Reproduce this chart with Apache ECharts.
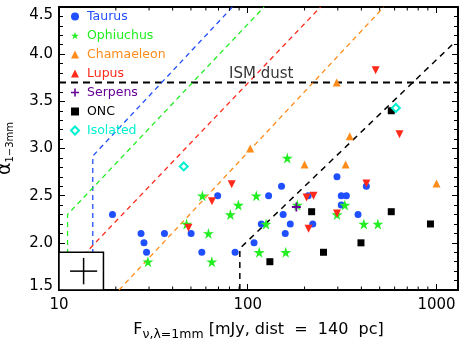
<!DOCTYPE html>
<html>
<head>
<meta charset="utf-8">
<script src="https://cdn.jsdelivr.net/npm/echarts@6/dist/echarts.min.js"></script>
<style>
  html, body { margin: 0; padding: 0; background: #fff; }
  #chart { width: 463px; height: 346px; }
</style>
</head>
<body>
<div id="chart"></div>
<script>
// 数据：F(1mm) [mJy] 与 α(1-3mm)
const taurus = [[19.2,2.3],[27.2,2.1],[28.2,2.0],[29.1,1.9],[36.2,2.1],[50.1,2.1],[57.1,1.9],[69.3,2.5],
    [85.7,1.9],[108,2.0],[118,2.2],[129,2.5],[151,2.6],[154,2.3],[158,2.1],[168,2.2],[209,2.5],[221,2.2],
    [297,2.7],[313,2.5],[333,2.5],[313,2.4],[384,2.3],[425,2.6]];
const ophiuchus = [[29.6,1.8],[47.4,2.2],[57.5,2.5],[61.9,2.1],[64.5,1.8],[80.9,2.3],[89.2,2.4],[111,2.5],
    [115,1.9],[125,2.2],[159,1.9],[162,2.9],[183,2.4],[297,2.3],[327,2.4],[412,2.2],[489,2.2]];
const chamaeleon = [[103,3.0],[200,2.83],[296,3.7],[330,2.83],[347,3.13],[1000,2.63]];
const lupus = [[48.5,2.16],[64.6,2.44],[82.2,2.62],[205,2.48],[210,2.15],[223,2.5],[297,2.31],[425,2.63],
    [476,3.83],[637,3.15]];
const serpens = [[181,2.38]];
const onc = [[131,1.8],[218,2.33],[252,1.9],[398,2.0],[576,2.33],[576,3.4],[929,2.2]];
const isolated = [[45.8,2.81],[609,3.43]];

// 模型曲线（虚线）
const blueModel = [[15.1,1.5],[15.1,2.92],[83,4.5]];
const greenModel = [[11.1,1.5],[11.1,2.30],[122,4.5]];
const redModel = [[12.5,1.80],[243,4.5]];
const orangeModel = [[20.8,1.5],[526,4.5]];
const blackModel = [[90.8,1.5],[90.8,1.94],[1210,4.10]];
const ismAlpha = 3.7;
const ismLabelAt = [118, 3.7];

// 典型误差
const errorBar = [13.5, 1.7];      // 中心
const errorSize = [1.18, 0.14];    // x 倍数, y 半宽
const errorBox = [17.2, 1.9];      // 方框右上角

// 坐标轴
const xRange = [10, 1300];
const yRange = [1.5, 4.5];
const xMajorTicks = [10, 100, 1000];
const xMinorTicks = [20,30,40,50,60,70,80,90,200,300,400,500,600,700,800,900];

const FONT = 'DejaVu Sans';
const C = {
    taurus: '#1f4fff', oph: '#22ee22', cha: '#ff8c1a', lupus: '#ff2a1a',
    serpens: '#660099', onc: '#000000', iso: '#00f0d0'
};
const starPath = 'path://M50,0 L61,35 L98,35 L68,57 L79,91 L50,70 L21,91 L32,57 L2,35 L39,35 Z';
const plusPath = 'path://M4,0 H6 V4 H10 V6 H6 V10 H4 V6 H0 V4 H4 Z';

(function () {
    const my_echart = echarts.init(document.getElementById('chart'));

    const axisLine = { show: true, onZero: false, lineStyle: { color: '#000', width: 2 } };
    const xAxisBase = {
        type: 'log', min: xRange[0], max: xRange[1],
        axisLine: axisLine,
        axisTick: { show: true, inside: true, length: 6, lineStyle: { color: '#000', width: 1 } },
        splitLine: { show: false }
    };
    const yAxisBase = {
        type: 'value', min: yRange[0], max: yRange[1], interval: 0.5,
        axisLine: axisLine,
        axisTick: { show: true, inside: true, length: 6, lineStyle: { color: '#000', width: 1 } },
        minorTick: { show: true, splitNumber: 5, length: 4, lineStyle: { color: '#000', width: 1 } },
        splitLine: { show: false }
    };

    const dashed = (name, data, color, width, dash) => ({
        name: name, type: 'line', data: data, showSymbol: false, silent: true, z: 2,
        lineStyle: { color: color, width: width, type: dash }
    });
    const scatter = (name, data, symbol, size, color, extra) => Object.assign({
        name: name, type: 'scatter', data: data, symbol: symbol, symbolSize: size, z: 5,
        itemStyle: { color: color, opacity: 1 }
    }, extra || {});

    const isLog10 = v => Math.abs(Math.log10(v) - Math.round(Math.log10(v))) < 1e-6;
    const legendText = c => ({ color: c, padding: [0, 0, 0, 3] });

    let option = {
        animation: false,
        backgroundColor: '#fff',
        textStyle: { fontFamily: FONT },
        grid: { left: 59, right: 5, top: 7, bottom: 56, containLabel: false, outerBoundsMode: 'none' },
        legend: {
            orient: 'vertical', left: 65, top: 5,
            itemWidth: 8, itemHeight: 8, itemGap: 6,
            textStyle: { fontFamily: FONT, fontSize: 12.5 },
            data: [
                { name: 'Taurus', textStyle: legendText(C.taurus) },
                { name: 'Ophiuchus', textStyle: legendText(C.oph) },
                { name: 'Chamaeleon', textStyle: legendText(C.cha) },
                { name: 'Lupus', textStyle: legendText(C.lupus) },
                { name: 'Serpens', textStyle: legendText(C.serpens) },
                { name: 'ONC', textStyle: legendText(C.onc) },
                { name: 'Isolated', textStyle: legendText(C.iso) }
            ]
        },
        xAxis: [
            Object.assign({}, xAxisBase, {
                position: 'bottom',
                axisLabel: {
                    show: true, color: '#000', fontSize: 15, fontFamily: FONT, margin: 8,
                    formatter: v => (isLog10(v) && xMajorTicks.indexOf(Math.round(v)) >= 0) ? String(Math.round(v)) : ''
                },
                name: '{m|F}{s|ν,λ=1mm}{m| [mJy, dist  =  140  pc]}',
                nameLocation: 'middle', nameGap: 28,
                nameTextStyle: {
                    color: '#000',
                    rich: {
                        m: { fontSize: 16, fontFamily: FONT, color: '#000', lineHeight: 22 },
                        s: { fontSize: 12.5, fontFamily: FONT, color: '#000', lineHeight: 12, padding: [10, 0, 0, 0] }
                    }
                }
            }),
            Object.assign({}, xAxisBase, { position: 'top', axisLabel: { show: false } })
        ],
        yAxis: [
            Object.assign({}, yAxisBase, {
                position: 'left',
                axisLabel: {
                    show: true, color: '#000', fontSize: 15, fontFamily: FONT, margin: 6,
                    formatter: v => v === yRange[1] ? '{t|' + v.toFixed(1) + '}' :
                        v === yRange[0] ? '{b|' + v.toFixed(1) + '}' : v.toFixed(1),
                    rich: {
                        t: { fontSize: 15, fontFamily: FONT, color: '#000', padding: [16, 0, 0, 0] },
                        b: { fontSize: 15, fontFamily: FONT, color: '#000', padding: [0, 0, 8, 0] }
                    }
                },
                name: '{a|α}{s|1−3mm}',
                nameLocation: 'middle', nameRotate: 90, nameGap: 43,
                nameTextStyle: {
                    color: '#000',
                    rich: {
                        a: { fontSize: 19, fontFamily: FONT, color: '#000', lineHeight: 22 },
                        s: { fontSize: 10, fontFamily: FONT, color: '#000', lineHeight: 12, padding: [10, 0, 0, 0] }
                    }
                }
            }),
            Object.assign({}, yAxisBase, { position: 'right', axisLabel: { show: false } })
        ],
        series: [
            // x 轴次刻度（对数），上下两边
            {
                type: 'custom', silent: true, z: 6, clip: false,
                data: xMinorTicks.map(v => [v, yRange[0]]),
                renderItem: function (params, api) {
                    const v = api.value(0);
                    const b = api.coord([v, yRange[0]]);
                    const t = api.coord([v, yRange[1]]);
                    const st = { stroke: '#000', lineWidth: 1 };
                    return {
                        type: 'group', children: [
                            { type: 'line', shape: { x1: b[0], y1: b[1], x2: b[0], y2: b[1] - 3.5 }, style: st },
                            { type: 'line', shape: { x1: t[0], y1: t[1], x2: t[0], y2: t[1] + 3.5 }, style: st }
                        ]
                    };
                }
            },
            dashed('ISM', [[xRange[0], ismAlpha], [xRange[1], ismAlpha]], '#000', 2, [7, 5]),
            dashed('mBlue', blueModel, C.taurus, 1.3, [5, 4]),
            dashed('mGreen', greenModel, C.oph, 1.3, [5, 4]),
            dashed('mRed', redModel, C.lupus, 1.3, [5, 4]),
            dashed('mOrange', orangeModel, C.cha, 1.3, [5, 4]),
            dashed('mBlack', blackModel, '#000', 1.5, [6, 5]),
            {
                type: 'scatter', silent: true, symbolSize: 0, z: 4,
                data: [ismLabelAt],
                label: { show: true, position: 'top', distance: 1, formatter: 'ISM dust',
                    color: '#000', fontSize: 15, fontFamily: FONT }
            },
            // 误差示意框
            {
                type: 'custom', silent: true, z: 4,
                data: [errorBar],
                renderItem: function (params, api) {
                    const c = api.coord([api.value(0), api.value(1)]);
                    const p0 = api.coord([xRange[0], yRange[0]]);
                    const p1 = api.coord(errorBox);
                    const xl = api.coord([api.value(0) / errorSize[0], api.value(1)]);
                    const xr = api.coord([api.value(0) * errorSize[0], api.value(1)]);
                    const yb = api.coord([api.value(0), api.value(1) - errorSize[1]]);
                    const yt = api.coord([api.value(0), api.value(1) + errorSize[1]]);
                    const st = { stroke: '#000', lineWidth: 1.5 };
                    return {
                        type: 'group', children: [
                            { type: 'rect', shape: { x: p0[0], y: p1[1], width: p1[0] - p0[0], height: p0[1] - p1[1] },
                              style: { fill: '#fff', stroke: '#000', lineWidth: 1.5 } },
                            { type: 'line', shape: { x1: xl[0], y1: c[1], x2: xr[0], y2: c[1] }, style: st },
                            { type: 'line', shape: { x1: c[0], y1: yb[1], x2: c[0], y2: yt[1] }, style: st }
                        ]
                    };
                }
            },
            scatter('Taurus', taurus, 'circle', 7, C.taurus),
            scatter('Ophiuchus', ophiuchus, starPath, 11, C.oph),
            scatter('Chamaeleon', chamaeleon, 'triangle', 8, C.cha),
            scatter('Lupus', lupus, 'triangle', 8, C.lupus, { symbolRotate: 180 }),
            scatter('Serpens', serpens, plusPath, 9, C.serpens),
            scatter('ONC', onc, 'rect', 7, C.onc),
            scatter('Isolated', isolated, 'diamond', 8, '#fff', {
                itemStyle: { color: '#fff', borderColor: C.iso, borderWidth: 2, opacity: 1 }
            })
        ]
    };
    my_echart.setOption(option);
})();
</script>
</body>
</html>
